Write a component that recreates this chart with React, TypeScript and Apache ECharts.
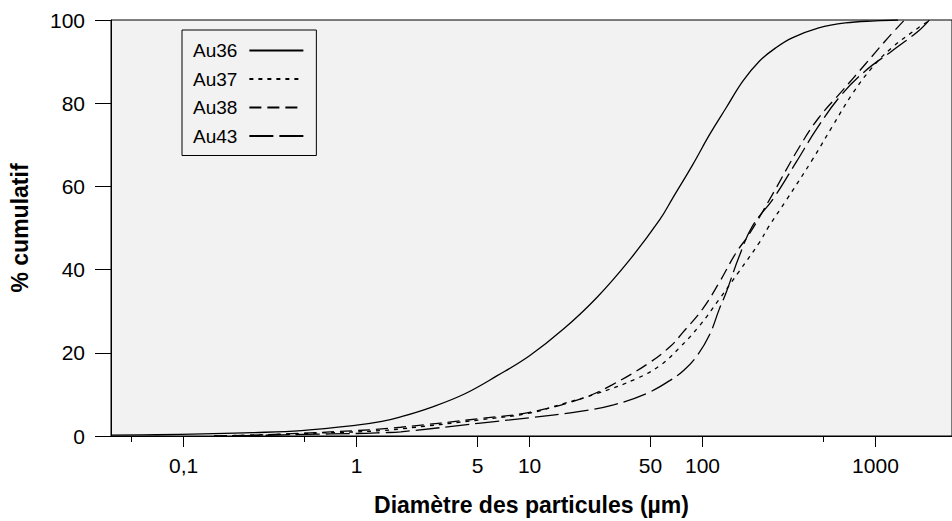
import React, { useEffect, useRef } from "react";
import * as echarts from "echarts";

const seriesNames = ["Au36", "Au37", "Au38", "Au43"];

const d36 = [0.038, 0.07, 0.13, 0.25, 0.48, 1, 1.4, 1.8, 2.7, 4.2, 6.5, 10, 15.7, 24.5, 38, 56.6, 67.5, 88, 110, 137, 171, 213, 265, 330, 470, 670, 1000, 1350];
const v36 = [0.2, 0.3, 0.5, 0.8, 1.3, 2.6, 3.5, 4.6, 6.9, 10.1, 14.5, 19.3, 25.7, 33.3, 42.4, 52, 57.3, 65.3, 72.5, 78.9, 85.3, 90.1, 93.3, 95.7, 98.1, 99.3, 99.8, 100];

const d37 = [0.15, 0.3, 0.5, 1, 1.4, 1.8, 5.2, 10, 15.7, 24.5, 41.6, 57, 73.5, 96, 125, 163, 213, 243, 303, 430, 561, 731, 953, 1240, 1766, 2070];
const v37 = [0, 0.3, 0.6, 1.0, 1.3, 1.7, 3.9, 5.5, 7.8, 10.2, 13.8, 17, 21.2, 26.5, 32.9, 39.6, 46.5, 50.5, 56.5, 66.3, 74.3, 82.1, 88.5, 93.3, 98.1, 100];

const d38 = [0.15, 0.3, 0.5, 1, 1.4, 1.8, 5.2, 10, 20, 30, 48, 65, 77, 100, 125, 156, 186, 254, 361, 470, 640, 870, 1135, 1470];
const v38 = [0, 0.3, 0.7, 1.3, 1.7, 2.1, 4.2, 5.7, 9, 12.3, 17.3, 21.5, 24.9, 30.5, 36.9, 44, 48.5, 58.1, 69.3, 76.5, 82.9, 89.3, 94.9, 100];

const d43 = [0.2, 0.5, 1, 1.4, 1.8, 5.2, 10, 19.6, 30.6, 47.4, 64.6, 78, 93, 110, 125, 137, 163, 194, 259, 350, 460, 626, 870, 1240, 1766, 2050];
const v43 = [0, 0.4, 0.6, 0.8, 1.0, 3.1, 4.4, 5.9, 7.5, 10.2, 13.3, 15.8, 19.3, 24.4, 30.5, 34.5, 43.2, 50.4, 57.3, 66, 74, 81.7, 87.7, 92.5, 97.3, 100];

const xMin = 0.038;
const xMax = 2770;
const majorTicks = [0.1, 1, 5, 10, 50, 100, 1000];
const minorTicks = [0.05, 0.5, 500];
const yMin = 0;
const yMax = 100;
const yStep = 20;

const seriesX = [d36, d37, d38, d43];
const seriesY = [v36, v37, v38, v43];
const dashes: any[] = ["solid", [4, 5], [12, 6], [24, 6]];

const FONT = "'Liberation Sans', Arial, Helvetica, sans-serif";

function fmtTick(v: number): string {
  const d = Math.pow(10, v);
  const r = d < 1 ? Math.round(d * 100) / 100 : Math.round(d);
  return String(r).replace(".", ",");
}

export default function App() {
  const ref = useRef<HTMLDivElement>(null);
  useEffect(() => {
    if (!ref.current) return;
    const chart = echarts.init(ref.current, undefined, { renderer: "svg" });
    const lmin = Math.log10(xMin);
    const lmax = Math.log10(xMax);
    const option: any = {
      animation: false,
      backgroundColor: "#ffffff",
      textStyle: { fontFamily: FONT, color: "#000" },
      grid: {
        left: 108,
        top: 20,
        right: -2,
        bottom: 84,
        show: true,
        backgroundColor: "#f2f2f2",
        borderColor: "#000",
        borderWidth: 1,
      },
      legend: {
        data: seriesNames,
        orient: "vertical",
        align: "right",
        left: 182,
        top: 30,
        padding: [11, 12, 10, 11],
        itemWidth: 54,
        itemHeight: 14,
        itemGap: 9.5,
        backgroundColor: "#f2f2f2",
        borderColor: "#000",
        borderWidth: 1,
        itemStyle: { color: "transparent", borderColor: "transparent", borderWidth: 0, opacity: 0 },
        textStyle: { fontFamily: FONT, fontSize: 19, color: "#000", padding: [0, 7, 0, 0] },
      },
      xAxis: [
        {
          type: "log",
          min: xMin,
          max: xMax,
          position: "bottom",
          axisLine: { show: true, onZero: false, lineStyle: { color: "#000", width: 1 } },
          axisTick: { show: false },
          axisLabel: { show: false },
          splitLine: { show: false },
          minorTick: { show: false },
          name: "Diamètre des particules (µm)",
          nameLocation: "middle",
          nameGap: 57,
          nameTextStyle: { fontFamily: FONT, fontSize: 23, fontWeight: "bold", color: "#000" },
        },
        {
          type: "value",
          min: lmin,
          max: lmax,
          position: "bottom",
          axisLine: { show: false, onZero: false },
          axisTick: {
            show: true,
            inside: false,
            length: 11,
            customValues: majorTicks.map((t) => Math.log10(t)),
            lineStyle: { color: "#000", width: 1 },
          },
          axisLabel: {
            show: true,
            margin: 19,
            fontSize: 21,
            color: "#000",
            fontFamily: FONT,
            customValues: majorTicks.map((t) => Math.log10(t)),
            formatter: (v: number) => fmtTick(v),
          },
          splitLine: { show: false },
        },
        {
          type: "value",
          min: lmin,
          max: lmax,
          position: "bottom",
          axisLine: { show: false, onZero: false },
          axisTick: {
            show: true,
            inside: false,
            length: 6,
            customValues: minorTicks.map((t) => Math.log10(t)),
            lineStyle: { color: "#000", width: 1 },
          },
          axisLabel: { show: false },
          splitLine: { show: false },
        },
      ],
      yAxis: {
        type: "value",
        min: yMin,
        max: yMax,
        interval: yStep,
        axisLine: { show: true, onZero: false, lineStyle: { color: "#000", width: 1 } },
        axisTick: { show: true, inside: false, length: 16, lineStyle: { color: "#000", width: 1 } },
        axisLabel: { margin: 26, fontSize: 21, color: "#000", fontFamily: FONT },
        splitLine: { show: false },
        name: "% cumulatif",
        nameLocation: "middle",
        nameGap: 80,
        nameTextStyle: { fontFamily: FONT, fontSize: 23, fontWeight: "bold", color: "#000" },
      },
      series: seriesNames.map((name, i) => ({
        name,
        type: "line",
        xAxisIndex: 0,
        yAxisIndex: 0,
        data: seriesX[i].map((x, j) => [x, seriesY[i][j]]),
        showSymbol: false,
        symbol: "none",
        smooth: 0.4,
        lineStyle: { color: "#000", width: 1.3, type: dashes[i] },
        itemStyle: { color: "#000" },
      })),
    };
    chart.setOption(option);
    return () => chart.dispose();
  }, []);
  return (
    <div
      ref={ref}
      style={{ position: "fixed", left: 0, top: 0, width: 952, height: 521 }}
    />
  );
}
